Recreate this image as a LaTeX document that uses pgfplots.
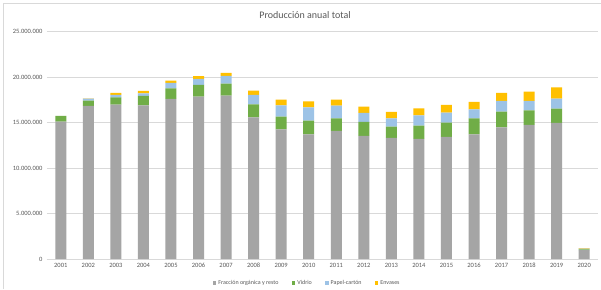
\documentclass[border=0pt]{standalone}
\usepackage{pgfplots}
\usepackage{pgfplotstable}
\pgfplotsset{compat=1.18}
\usepackage{fontspec}
\setmainfont{Carlito}
\definecolor{cgray}{HTML}{A5A5A5}
\definecolor{cgreen}{HTML}{70AD47}
\definecolor{cblue}{HTML}{9DC3E6}
\definecolor{cyellow}{HTML}{FFC000}
\definecolor{txt}{HTML}{595959}
\definecolor{grid}{HTML}{D9D9D9}
% values in millions of tonnes (segment heights)
\pgfplotstableread{
x year organica vidrio papel envases
0 2001 15.12 0.61 0.00 0.00
1 2002 16.85 0.57 0.22 0.04
2 2003 16.98 0.81 0.25 0.22
3 2004 16.90 1.03 0.30 0.25
4 2005 17.60 1.18 0.58 0.26
5 2006 17.86 1.28 0.66 0.30
6 2007 17.97 1.32 0.84 0.33
7 2008 15.59 1.43 1.02 0.48
8 2009 14.27 1.39 1.24 0.62
9 2010 13.72 1.49 1.47 0.67
10 2011 14.08 1.40 1.39 0.65
11 2012 13.53 1.54 0.99 0.69
12 2013 13.31 1.25 0.92 0.69
13 2014 13.20 1.46 1.15 0.77
14 2015 13.42 1.58 1.10 0.84
15 2016 13.72 1.75 1.00 0.80
16 2017 14.49 1.71 1.18 0.88
17 2018 14.74 1.61 1.03 1.02
18 2019 14.96 1.58 1.10 1.25
19 2020 0.99 0.08 0.08 0.06
}\datatable
\begin{document}
\begin{tikzpicture}
\useasboundingbox (0,0) rectangle (601pt,289pt);
\fill[white] (0,0) rectangle (601pt,289pt);
\draw[grid, line width=0.6pt] (3pt,0) -- (3pt,286pt) -- (601pt,286pt);
\node[text=txt, font=\fontsize{10}{12}\selectfont] at (305pt,274pt) {Producción anual total};
\begin{axis}[
  at={(47pt,30pt)}, anchor=south west,
  scale only axis, width=551pt, height=227.3pt,
  ybar stacked, bar width=11pt,
  xmin=-0.5, xmax=19.5, ymin=0, ymax=25,
  xtick=data,
  xticklabels={2001,2002,2003,2004,2005,2006,2007,2008,2009,2010,2011,2012,2013,2014,2015,2016,2017,2018,2019,2020},
  ytick={0,5,10,15,20,25},
  yticklabels={0,5.000.000,10.000.000,15.000.000,20.000.000,25.000.000},
  /pgf/number format/assume math mode=true,
  tick style={draw=none},
  ticklabel style={text=txt, font=\fontsize{6.5}{8}\selectfont},
  yticklabel style={xshift=-1pt},
  xticklabel style={yshift=-1pt},
  axis x line*=bottom,
  axis line style={draw=grid, line width=0.7pt},
  separate axis lines,
  y axis line style={draw=none},
  ymajorgrids, grid style={draw=grid, line width=0.6pt},
  legend columns=4,
  legend style={at={(0.472,-0.1056)}, anchor=center, draw=none, fill=none,
    font=\fontsize{6}{7}\selectfont, text=txt,
    /tikz/every even column/.append style={column sep=11pt}},
  legend image code/.code={\fill[#1] (0pt,-1.9pt) rectangle (3.8pt,1.9pt);},
  every axis plot/.append style={draw=none},
]
\addplot[fill=cgray] table[x=x, y=organica] {\datatable};
\addplot[fill=cgreen] table[x=x, y=vidrio] {\datatable};
\addplot[fill=cblue] table[x=x, y=papel] {\datatable};
\addplot[fill=cyellow] table[x=x, y=envases] {\datatable};
\legend{Fracción orgánica y resto, Vidrio, Papel-cartón, Envases}
\end{axis}
\end{tikzpicture}
\end{document}
